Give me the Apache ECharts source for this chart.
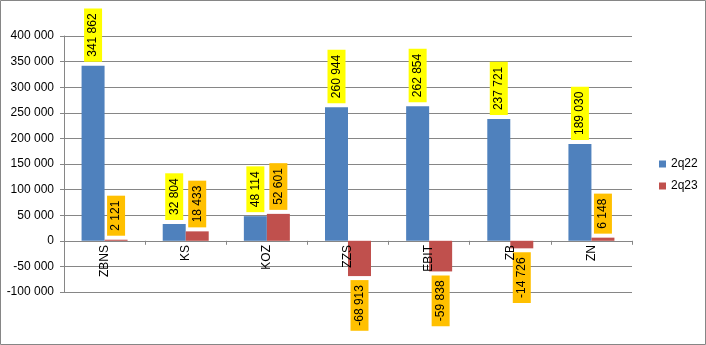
<!DOCTYPE html>
<html>
<head>
<meta charset="utf-8">
<script src="https://cdn.jsdelivr.net/npm/echarts@6/dist/echarts.min.js"></script>
<style>
html,body{margin:0;padding:0;background:#fff;}
#c{width:706px;height:345px;}
</style>
</head>
<body>
<div id="c"></div>
<script>
const categories = ['ZBNS', 'KS', 'KOZ', 'ZZS', 'EBIT', 'ZB', 'ZN'];
const seriesNames = ['2q22', '2q23'];
const values2q22 = [341862, 32804, 48114, 260944, 262854, 237721, 189030];
const values2q23 = [2121, 18433, 52601, -68913, -59838, -14726, 6148];
const yMin = -100000, yMax = 400000, yInterval = 50000;

function fmt(v) {
  const s = Math.abs(v).toString().replace(/\B(?=(\d{3})+(?!\d))/g, ' ');
  return (v < 0 ? '-' : '') + s;
}
const FONT = 'Liberation Sans';

function makeData(arr, bg) {
  return arr.map(v => ({
    value: v,
    label: {
      show: true,
      position: v >= 0 ? 'top' : 'bottom',
      rotate: 90,
      align: v >= 0 ? 'left' : 'right',
      verticalAlign: 'middle',
      distance: 4,
      backgroundColor: bg,
      padding: [3, 5, 3, 5],
      color: '#000',
      fontSize: 12,
      fontFamily: FONT,
      formatter: p => fmt(p.value)
    }
  }));
}

const chart = echarts.init(document.getElementById('c'), null, {renderer: 'canvas'});
chart.setOption({
  animation: false,
  backgroundColor: '#fff',
  textStyle: {fontFamily: FONT},
  graphic: [{
    type: 'rect',
    shape: {x: 0.5, y: 0.5, width: 705, height: 344},
    style: {fill: 'none', stroke: '#868686', lineWidth: 1},
    silent: true, z: 100
  }],
  grid: {left: 64, right: 74, top: 36, bottom: 53, containLabel: false},
  legend: {
    orient: 'vertical',
    left: 654,
    top: 153,
    itemWidth: 7,
    itemHeight: 7,
    itemGap: 10,
    icon: 'rect',
    textStyle: {fontSize: 12, color: '#000', fontFamily: FONT},
    data: seriesNames
  },
  xAxis: [{
    type: 'category',
    data: categories,
    axisLine: {show: true, onZero: true, lineStyle: {color: '#868686'}},
    axisTick: {show: true, length: 4, lineStyle: {color: '#868686'}},
    axisLabel: {show: false},
    splitLine: {show: false}
  }, {
    type: 'category',
    data: categories,
    position: 'bottom',
    offset: -51,
    z: 5,
    axisLine: {show: false, onZero: false},
    axisTick: {show: false},
    axisLabel: {rotate: 90, margin: 4, color: '#000', fontSize: 12, fontFamily: FONT},
    splitLine: {show: false}
  }],
  yAxis: {
    type: 'value',
    min: yMin, max: yMax, interval: yInterval,
    axisLine: {show: true, lineStyle: {color: '#868686'}},
    axisTick: {show: true, length: 4, lineStyle: {color: '#868686'}},
    axisLabel: {margin: 10, color: '#000', fontSize: 12, fontFamily: FONT, formatter: v => fmt(v)},
    splitLine: {show: true, lineStyle: {color: '#868686', width: 1}}
  },
  series: [
    {
      name: seriesNames[0], type: 'bar', barWidth: 23, barGap: '0%',
      itemStyle: {color: '#4F81BD'},
      data: makeData(values2q22, '#FFFF00')
    },
    {
      name: seriesNames[1], type: 'bar', barWidth: 23, barGap: '0%',
      itemStyle: {color: '#C0504D'},
      data: makeData(values2q23, '#FFC000')
    }
  ]
});
</script>
</body>
</html>
